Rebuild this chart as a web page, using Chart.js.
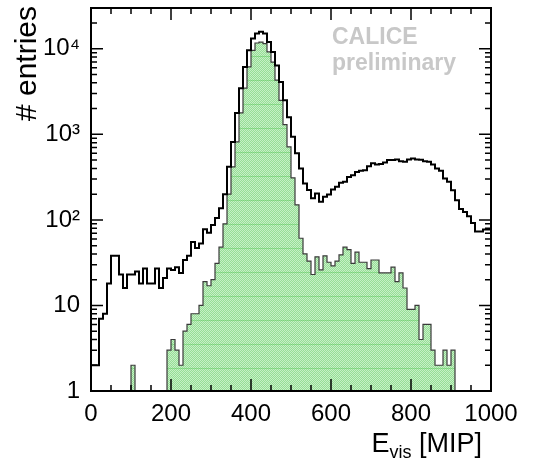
<!DOCTYPE html>
<html lang="en">
<head>
  <meta charset="UTF-8">
  <title>CALICE E_vis distribution</title>
  <script src="https://cdn.jsdelivr.net/npm/chart.js"></script>
  <style>
    body { margin: 0; background: #fff; }
    canvas { display: block; }
  </style>
</head>
<body>
  <canvas id="hist" width="534" height="462"></canvas>

  <script>
    // histogram binning: 100 bins of 10 MIP from 0 to 1000
    const binLow = 0;
    const binWidth = 10;

    // all events (black outline)
    const allCounts = [
      2, 2, 7, 8, 18, 38, 38, 23, 16, 23,
      23, 25, 18, 27, 18, 18, 27, 16, 21, 27,
      26, 28, 24, 34, 38, 55, 47, 53, 78, 71,
      87, 105, 137, 200, 417, 815, 1780, 3470, 6150, 9600,
      13200, 15100, 15800, 15100, 12000, 9200, 6400, 4100, 2500, 1590,
      935, 600, 400, 266, 223, 179, 204, 163, 186, 198,
      226, 244, 272, 279, 318, 333, 364, 375, 380, 424,
      458, 445, 450, 470, 500, 500, 508, 486, 478, 508,
      523, 510, 505, 486, 478, 445, 400, 375, 305, 279,
      222, 170, 134, 124, 110, 92, 73, 73, 77, 77
    ];

    // selected events (green filled)
    const selCounts = [
      0, 0, 0, 0, 0, 0, 0, 0, 0, 0,
      2, 0, 0, 0, 0, 0, 0, 0, 0, 3,
      4, 3, 2, 5, 6, 8, 8, 10, 19, 17,
      20, 31, 48, 90, 200, 417, 815, 1780, 3470, 6150,
      9600, 11700, 12000, 11500, 9200, 7000, 4300, 2500, 1300, 715,
      310, 150, 61, 40, 33, 23, 37, 26, 38, 32,
      29, 33, 39, 48, 45, 31, 42, 32, 32, 27,
      34, 34, 24, 24, 24, 28, 19, 24, 16, 9,
      9, 10, 4, 6, 6, 3, 2, 2, 3, 2,
      3, 0, 0, 0, 0, 0, 0, 0, 0, 0
    ];

    const xTicks = [0, 200, 400, 600, 800, 1000];
    const yTicks = [1, 10, 100, 1000, 10000];
    const yTickLabels = ['1', '10', '10²', '10³', '10⁴'];

    const FONT = '"Liberation Sans", Arial, Helvetica, sans-serif';

    // step points at the low edge of each bin, plus closing point at the upper edge
    function stepPoints(counts) {
      const floor = 0.1; // empty bins sit below the log axis
      const pts = counts.map((c, i) => ({ x: binLow + i * binWidth, y: c > 0 ? c : floor }));
      const last = counts[counts.length - 1];
      pts.push({ x: binLow + counts.length * binWidth, y: last > 0 ? last : floor });
      return pts;
    }

    // ROOT-like dotted green fill
    function greenPattern() {
      const c = document.createElement('canvas');
      c.width = 2; c.height = 24;
      const g = c.getContext('2d');
      for (let yy = 0; yy < 24; yy++) {
        const dark = yy === 8;
        for (let xx = 0; xx < 2; xx++) {
          const odd = (xx + yy) % 2 === 1;
          g.fillStyle = dark ? (odd ? 'rgb(120,212,120)' : 'rgb(150,222,150)')
                             : (odd ? 'rgb(150,222,150)' : 'rgb(198,240,198)');
          g.fillRect(xx, yy, 1, 1);
        }
      }
      return g.createPattern(c, 'repeat');
    }

    const framePlugin = {
      id: 'frame',
      afterDatasetsDraw(chart) {
        const { ctx, chartArea: a, scales: { x, y } } = chart;
        ctx.save();
        ctx.strokeStyle = '#000';
        ctx.lineWidth = 1.5;
        ctx.beginPath();
        for (let v = 0; v <= 1000; v += 50) {
          const px = x.getPixelForValue(v);
          const len = v % 200 === 0 ? 12 : 6;
          ctx.moveTo(px, a.bottom); ctx.lineTo(px, a.bottom - len);
          ctx.moveTo(px, a.top); ctx.lineTo(px, a.top + len);
        }
        for (let d = 1; d <= 10000; d *= 10) {
          for (let k = 1; k <= 9; k++) {
            const v = d * k;
            if (v > y.max) break;
            const py = y.getPixelForValue(v);
            const len = k === 1 ? 12 : 6;
            ctx.moveTo(a.left, py); ctx.lineTo(a.left + len, py);
            ctx.moveTo(a.right, py); ctx.lineTo(a.right - len, py);
          }
        }
        ctx.stroke();
        ctx.lineWidth = 2;
        ctx.strokeRect(a.left, a.top, a.right - a.left, a.bottom - a.top);
        ctx.restore();
      }
    };

    const textPlugin = {
      id: 'texts',
      afterDraw(chart) {
        const ctx = chart.ctx;
        ctx.save();
        // watermark
        ctx.fillStyle = '#c8c8c8';
        ctx.font = 'bold 23px ' + FONT;
        ctx.textBaseline = 'alphabetic';
        ctx.fillText('CALICE', 332, 44);
        ctx.fillText('preliminary', 332, 70);

        // x title with subscript
        ctx.fillStyle = '#000';
        const big = '27px ' + FONT, small = '18px ' + FONT;
        ctx.font = big;
        const wE = ctx.measureText('E').width;
        const wM = ctx.measureText(' [MIP]').width;
        ctx.font = small;
        const wV = ctx.measureText('vis').width;
        const x0 = 482 - (wE + wV + wM);
        ctx.font = big; ctx.fillText('E', x0, 452);
        ctx.font = small; ctx.fillText('vis', x0 + wE, 458);
        ctx.font = big; ctx.fillText(' [MIP]', x0 + wE + wV, 452);

        // y title
        ctx.translate(36, 6);
        ctx.rotate(-Math.PI / 2);
        ctx.textAlign = 'right';
        ctx.font = '30px ' + FONT;
        ctx.fillText('# entries', 0, 0);
        ctx.restore();
      }
    };

    const tickFont = { family: FONT, size: 24 };

    new Chart(document.getElementById('hist'), {
      type: 'line',
      data: {
        datasets: [
          {
            label: 'all',
            data: stepPoints(allCounts),
            stepped: 'before',
            borderColor: '#000',
            borderWidth: 2,
            pointRadius: 0,
            fill: false
          },
          {
            label: 'selected',
            data: stepPoints(selCounts),
            stepped: 'before',
            borderColor: '#3a3a3a',
            borderWidth: 1.2,
            backgroundColor: greenPattern(),
            fill: 'start',
            pointRadius: 0
          }
        ]
      },
      options: {
        responsive: false,
        animation: false,
        devicePixelRatio: 1,
        layout: { padding: { top: 8, right: 43, left: 0, bottom: 0 } },
        plugins: { legend: { display: false }, tooltip: { enabled: false } },
        scales: {
          x: {
            type: 'linear',
            min: 0,
            max: 1000,
            grid: { display: false, drawTicks: false },
            border: { display: false },
            afterBuildTicks(s) { s.ticks = xTicks.map(v => ({ value: v })); },
            ticks: {
              font: tickFont,
              color: '#000',
              padding: 9,
              maxRotation: 0,
              autoSkip: false,
              callback: (v) => String(v)
            },
            afterFit(s) { s.height = 71; s.paddingLeft = 0; s.paddingRight = 0; }
          },
          y: {
            type: 'logarithmic',
            min: 1,
            max: 30000,
            grid: { display: false, drawTicks: false },
            border: { display: false },
            afterBuildTicks(s) { s.ticks = yTicks.map(v => ({ value: v })); },
            ticks: {
              font: tickFont,
              color: '#000',
              padding: 11,
              autoSkip: false,
              callback: (v) => yTickLabels[yTicks.indexOf(v)]
            },
            afterFit(s) { s.width = 91; s.paddingTop = 0; s.paddingBottom = 0; }
          }
        }
      },
      plugins: [framePlugin, textPlugin]
    });
  </script>
</body>
</html>
